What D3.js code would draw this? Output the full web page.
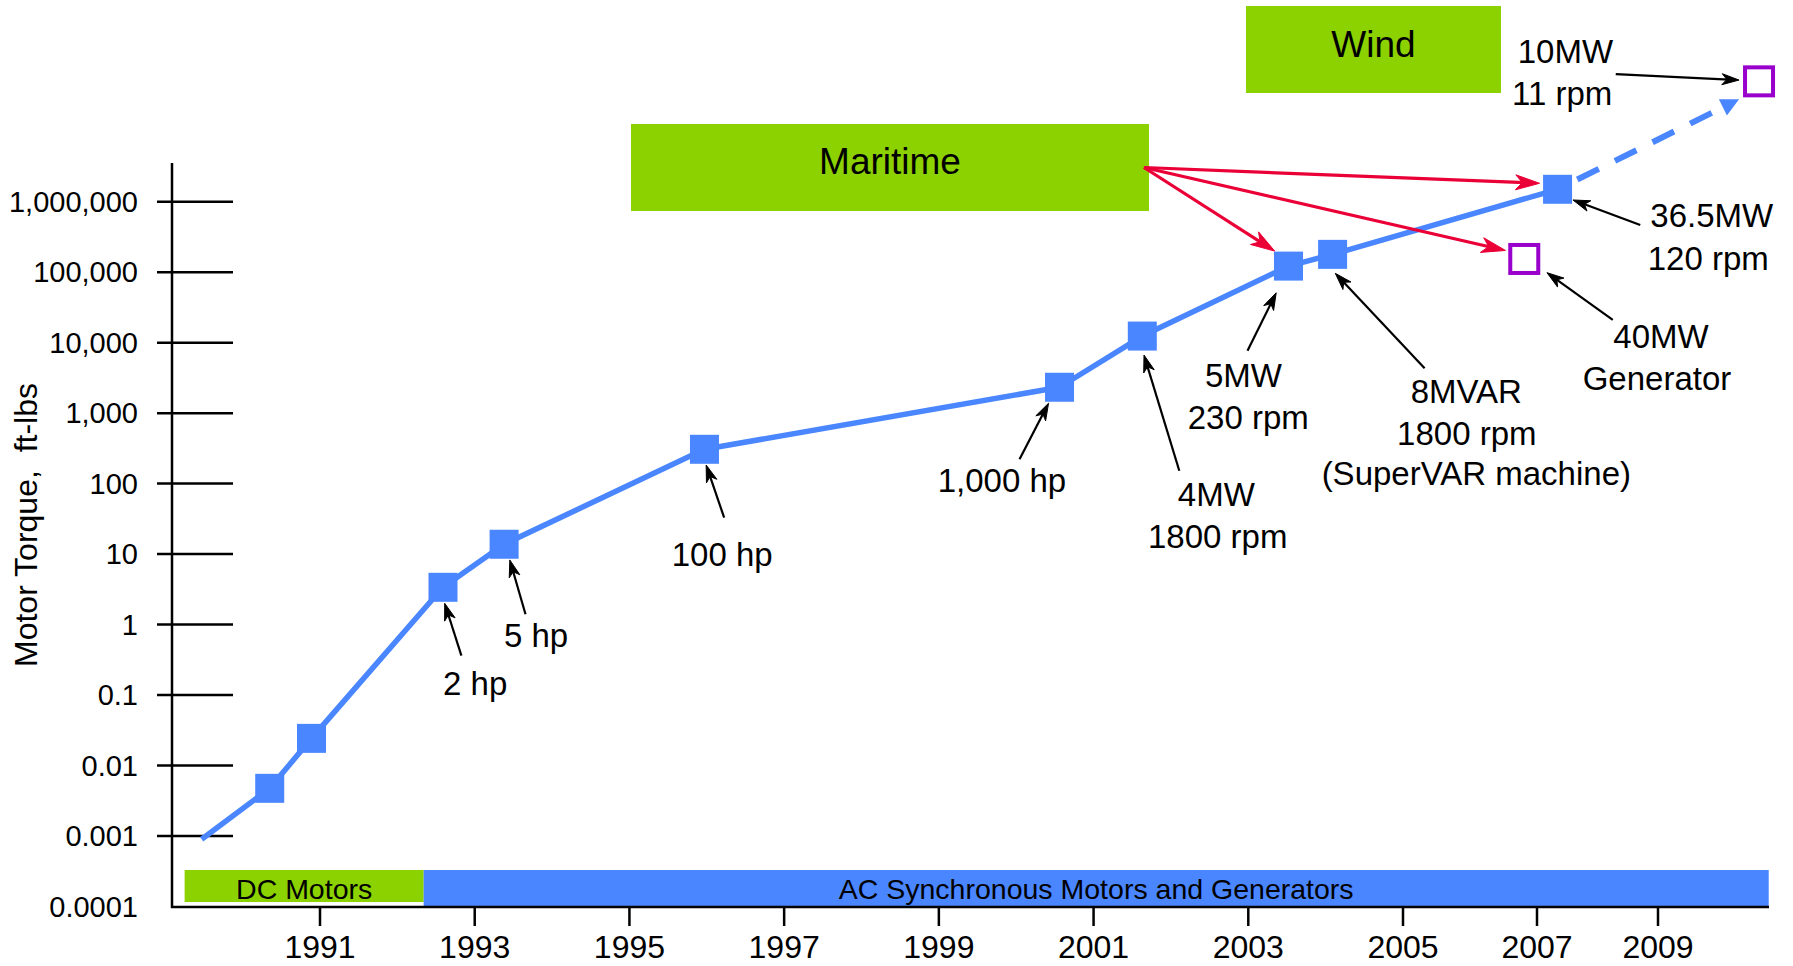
<!DOCTYPE html>
<html>
<head>
<meta charset="utf-8">
<script src="https://cdn.jsdelivr.net/npm/d3@7"></script>
<style>
  html, body { margin: 0; padding: 0; background: #fff; }
  svg { display: block; font-family: "Liberation Sans", Arial, Helvetica, sans-serif; }
</style>
</head>
<body>
<svg id="chart" width="1793" height="966"></svg>
<script>
// ---- axis ticks ----
const yearTicks = [1991, 1993, 1995, 1997, 1999, 2001, 2003, 2005, 2007, 2009];
const torqueTicks = [1e-4, 1e-3, 1e-2, 1e-1, 1, 10, 100, 1e3, 1e4, 1e5, 1e6];
const torqueTickLabels = ["0.0001", "0.001", "0.01", "0.1", "1", "10", "100",
                          "1,000", "10,000", "100,000", "1,000,000"];

// ---- machines built (first entry is the trend origin, no marker) ----
const builtYears  = [1989.47, 1990.35, 1990.89, 1992.59, 1993.38, 1995.97,
                     2000.56, 2001.63, 2003.52, 2004.09, 2007.34];
const builtTorque = [0.0009, 0.00475, 0.0243, 3.38, 13.8, 307,
                     2330, 12400, 122000, 179000, 1500000];

// ---- machines planned ----
const plannedYears  = [2006.81, 2010.67];
const plannedTorque = [154000, 51000000];

// ---- technology eras along the time axis ----
const eraNames = ["DC Motors", "AC Synchronous Motors and Generators"];
const eraStart = [1989.25, 1992.34];
const eraEnd   = [1992.34, 2010.83];

// ---- application sectors ----
const sectorNames = ["Maritime", "Wind"];

// ---- callouts ----
const noteSet   = ["built", "built", "built", "built", "built", "built", "built", "built", "planned", "planned"];
const noteIndex = [3, 4, 5, 6, 7, 8, 9, 10, 0, 1];
const noteText  = [
  ["2 hp"], ["5 hp"], ["100 hp"], ["1,000 hp"],
  ["4MW", "1800 rpm"], ["5MW", "230 rpm"],
  ["8MVAR", "1800 rpm", "(SuperVAR machine)"],
  ["36.5MW", "120 rpm"], ["40MW", "Generator"], ["10MW", "11 rpm"]
];
// Maritime links: targets
const maritimeSet   = ["built", "built", "planned"];
const maritimeIndex = [10, 8, 0];

// ---------------- layout ----------------
const COLORS = { blue: "#4A86FF", green: "#8CD100", red: "#EA0037", purple: "#9900CC", ink: "#000" };

// callout geometry: arrow tip, arrow tail, text line anchors (offsets from the mark centre)
const noteLayout = [
  { tip: [1.7, 16],    tail: [18.4, 68.4],  lines: [[32.2, 107.7]] },
  { tip: [5.7, 15.7],  tail: [21.4, 70],    lines: [[32, 102.4]] },
  { tip: [1.7, 15.7],  tail: [19.7, 68.4],  lines: [[17.7, 116.4]] },
  { tip: [-11, 16],    tail: [-40, 72],     lines: [[-57.6, 105]] },
  { tip: [1.7, 19],    tail: [37, 134.7],   lines: [[74, 170], [75.4, 212.3]] },
  { tip: [-12.3, 26.7],tail: [-41, 84.7],   lines: [[-45, 121.3], [-40.3, 163]] },
  { tip: [2.7, 19],    tail: [92, 114],     lines: [[133.7, 149], [134.2, 190.7], [143.7, 230.7]] },
  { tip: [15.4, 10.7], tail: [82.7, 35.7],  lines: [[154.2, 37.4], [150.7, 80.7]] },
  { tip: [22.7, 13.7], tail: [88.5, 61],    lines: [[136.7, 89.3], [132.7, 131]] },
  { tip: [-20, -1.3],  tail: [-143.3, -7.3],lines: [[-193.6, -18], [-196.8, 23.7]] }
];
const maritimeTips = [[-18, -6], [-13.8, -15], [-18.8, -8.5]];
const sectorBoxes = [
  { x: 631, y: 124, w: 518, h: 87, base: 174 },
  { x: 1246, y: 6, w: 255, h: 87, base: 57 }
];

const svg = d3.select("#chart");

const x = d3.scaleLinear().domain([1991, 2005, 2007, 2009]).range([320, 1403, 1537, 1658]);
const y = d3.scaleLog().domain([1e-4, 1e6]).range([906.5, 201.7]);

const built = builtYears.map((yr, i) => ({ x: x(yr), y: y(builtTorque[i]) }));
const planned = plannedYears.map((yr, i) => ({ x: x(yr), y: y(plannedTorque[i]) }));
const sets = { built, planned };

// arrow helper: shaft plus barbed head
function arrow(g, tail, tip, color, width, len, half) {
  const dx = tip[0] - tail[0], dy = tip[1] - tail[1];
  const d = Math.hypot(dx, dy), ux = dx / d, uy = dy / d, nx = -uy, ny = ux;
  const back = [tip[0] - ux * len * 0.6, tip[1] - uy * len * 0.6];
  g.append("line")
    .attr("x1", tail[0]).attr("y1", tail[1])
    .attr("x2", back[0]).attr("y2", back[1])
    .attr("stroke", color).attr("stroke-width", width);
  const b1 = [tip[0] - ux * len + nx * half, tip[1] - uy * len + ny * half];
  const b2 = [tip[0] - ux * len - nx * half, tip[1] - uy * len - ny * half];
  const inner = [tip[0] - ux * len * 0.72, tip[1] - uy * len * 0.72];
  g.append("path")
    .attr("d", `M${tip[0]},${tip[1]}L${b1[0]},${b1[1]}L${inner[0]},${inner[1]}L${b2[0]},${b2[1]}Z`)
    .attr("fill", color).attr("stroke", color).attr("stroke-width", 1).attr("stroke-linejoin", "miter");
}

// ---- era bars ----
const eraG = svg.append("g");
eraNames.forEach((name, i) => {
  const x0 = x(eraStart[i]), x1 = x(eraEnd[i]);
  eraG.append("rect")
    .attr("x", x0).attr("y", 870)
    .attr("width", x1 - x0).attr("height", i === 0 ? 32 : 36)
    .attr("fill", i === 0 ? COLORS.green : COLORS.blue);
  eraG.append("text")
    .attr("x", (x0 + x1) / 2).attr("y", 899)
    .attr("text-anchor", "middle")
    .attr("font-size", 28.5)
    .attr("fill", COLORS.ink)
    .text(name);
});

// ---- axes ----
const axisG = svg.append("g").attr("stroke", COLORS.ink).attr("stroke-width", 2.5);
axisG.append("line").attr("x1", 172).attr("y1", 163).attr("x2", 172).attr("y2", 908);
axisG.append("line").attr("x1", 171).attr("y1", 907).attr("x2", 1769).attr("y2", 907);

torqueTicks.forEach((v, i) => {
  if (i > 0) {
    axisG.append("line")
      .attr("x1", 157).attr("x2", 233)
      .attr("y1", y(v)).attr("y2", y(v));
  }
  svg.append("text")
    .attr("x", 138).attr("y", y(v)).attr("dy", "0.35em")
    .attr("text-anchor", "end")
    .attr("font-size", 29)
    .text(torqueTickLabels[i]);
});

yearTicks.forEach(yr => {
  axisG.append("line")
    .attr("x1", x(yr)).attr("x2", x(yr))
    .attr("y1", 907).attr("y2", 926);
  svg.append("text")
    .attr("x", x(yr)).attr("y", 958)
    .attr("text-anchor", "middle")
    .attr("font-size", 32)
    .text(d3.format("d")(yr));
});

svg.append("text")
  .attr("transform", "translate(37,525) rotate(-90)")
  .attr("text-anchor", "middle")
  .attr("font-size", 32)
  .style("white-space", "pre")
  .text("Motor Torque,  ft-lbs");

// ---- sector boxes ----
sectorNames.forEach((name, i) => {
  const b = sectorBoxes[i];
  svg.append("rect")
    .attr("x", b.x).attr("y", b.y).attr("width", b.w).attr("height", b.h)
    .attr("fill", COLORS.green);
  svg.append("text")
    .attr("x", b.x + b.w / 2).attr("y", b.base)
    .attr("text-anchor", "middle")
    .attr("font-size", 37)
    .text(name);
});

// ---- projection toward the planned wind machine ----
const last = built[built.length - 1];
const goal = planned[1];
const tipP = [goal.x - 20, goal.y + 18];
{
  const dx = tipP[0] - last.x, dy = tipP[1] - last.y;
  const d = Math.hypot(dx, dy), ux = dx / d, uy = dy / d;
  const headLen = 18, half = 9;
  const baseP = [tipP[0] - ux * headLen, tipP[1] - uy * headLen];
  svg.append("line")
    .attr("x1", last.x).attr("y1", last.y)
    .attr("x2", baseP[0]).attr("y2", baseP[1])
    .attr("stroke", COLORS.blue).attr("stroke-width", 6)
    .attr("stroke-dasharray", "24 18").attr("stroke-dashoffset", 20);
  svg.append("path")
    .attr("d", `M${tipP[0]},${tipP[1]}L${baseP[0] - uy * half},${baseP[1] + ux * half}L${baseP[0] + uy * half},${baseP[1] - ux * half}Z`)
    .attr("fill", COLORS.blue);
}

// ---- trend line and markers ----
svg.append("path")
  .datum(built)
  .attr("d", d3.line().x(d => d.x).y(d => d.y))
  .attr("fill", "none")
  .attr("stroke", COLORS.blue)
  .attr("stroke-width", 5.5)
  .attr("stroke-linejoin", "round");

const S = 29;
svg.append("g").selectAll("rect")
  .data(built.slice(1))
  .join("rect")
  .attr("x", d => d.x - S / 2).attr("y", d => d.y - S / 2)
  .attr("width", S).attr("height", S)
  .attr("fill", COLORS.blue);

const P = 28;
svg.append("g").selectAll("rect")
  .data(planned)
  .join("rect")
  .attr("x", d => d.x - P / 2).attr("y", d => d.y - P / 2)
  .attr("width", P).attr("height", P)
  .attr("fill", "#fff")
  .attr("stroke", COLORS.purple).attr("stroke-width", 4);

// ---- Maritime links ----
const linkG = svg.append("g");
const mBox = sectorBoxes[0];
const mOrigin = [mBox.x + mBox.w - 5, mBox.y + mBox.h / 2];
maritimeSet.forEach((s, i) => {
  const p = sets[s][maritimeIndex[i]];
  const off = maritimeTips[i];
  arrow(linkG, mOrigin, [p.x + off[0], p.y + off[1]], COLORS.red, 3.2, 24, 7.5);
});

// ---- callouts ----
const noteG = svg.append("g");
noteText.forEach((lines, k) => {
  const p = sets[noteSet[k]][noteIndex[k]];
  const L = noteLayout[k];
  arrow(noteG, [p.x + L.tail[0], p.y + L.tail[1]], [p.x + L.tip[0], p.y + L.tip[1]], COLORS.ink, 2.2, 17, 5.5);
  lines.forEach((t, j) => {
    noteG.append("text")
      .attr("x", p.x + L.lines[j][0]).attr("y", p.y + L.lines[j][1])
      .attr("text-anchor", "middle")
      .attr("font-size", 33)
      .text(t);
  });
});
</script>
</body>
</html>
